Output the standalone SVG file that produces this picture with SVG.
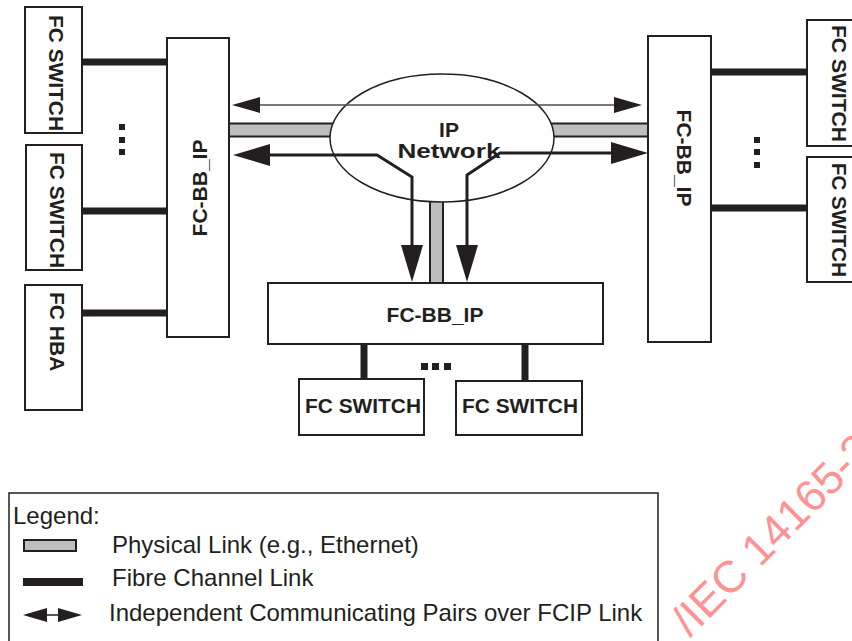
<svg xmlns="http://www.w3.org/2000/svg" width="852" height="641" viewBox="0 0 852 641">
<style>
.box{fill:#fff;stroke:#231f20;stroke-width:2}
.lbl{font-family:"Liberation Sans",Arial,sans-serif;font-weight:bold;font-size:21px;fill:#231f20}
.fc{stroke:#231f20;stroke-width:7;fill:none}
.phys{fill:#bcbec0;stroke:#231f20;stroke-width:2}
.pair{stroke:#231f20;stroke-width:3;fill:none}
.thin{stroke:#4d4d4f;stroke-width:1.5;fill:none}
.dot{fill:#231f20}
.leg{font-family:"Liberation Sans",Arial,sans-serif;font-size:24px;fill:#231f20}
</style>
<defs>
<marker id="bigHead" markerUnits="userSpaceOnUse" markerWidth="40" markerHeight="24" viewBox="0 -12 38 24" refX="0" refY="0" orient="auto-start-reverse">
<path d="M0,-11 L37,0 L0,11 z" fill="#231f20"/>
</marker>
<marker id="smallHead" markerUnits="userSpaceOnUse" markerWidth="30" markerHeight="18" viewBox="0 -9 29 18" refX="0" refY="0" orient="auto-start-reverse">
<path d="M0,-8 L28,0 L0,8 z" fill="#231f20"/>
</marker>
<marker id="legHead" markerUnits="userSpaceOnUse" markerWidth="26" markerHeight="16" viewBox="0 -8 25 16" refX="0" refY="0" orient="auto-start-reverse">
<path d="M0,-7 L24,0 L0,7 z" fill="#231f20"/>
</marker>
</defs>
<rect width="852" height="641" fill="#fff"/>

<g id="connectors">
<line class="fc" x1="82" y1="62" x2="167" y2="62"/>
<line class="fc" x1="82" y1="211" x2="167" y2="211"/>
<line class="fc" x1="82" y1="313" x2="167" y2="313"/>
<line class="fc" x1="711" y1="72" x2="807" y2="72"/>
<line class="fc" x1="711" y1="208" x2="807" y2="208"/>
<line class="fc" x1="364" y1="344" x2="364" y2="379"/>
<line class="fc" x1="525" y1="344" x2="525" y2="381"/>
<rect class="phys" x="229" y="123.5" width="110" height="13"/>
<rect class="phys" x="545" y="123.5" width="103" height="13"/>
<rect class="phys" x="430" y="190" width="13" height="93"/>
</g>

<g id="ip-network">
<ellipse cx="442" cy="138" rx="112" ry="64" fill="#fff" stroke="#231f20" stroke-width="1.5"/>
<text class="lbl" x="449" y="137" text-anchor="middle" font-size="25">IP</text>
<text class="lbl" x="449" y="158" text-anchor="middle" font-size="25" textLength="103" lengthAdjust="spacingAndGlyphs">Network</text>
</g>

<g id="pairs">
<path class="thin" d="M260,105 H614" marker-start="url(#smallHead)" marker-end="url(#smallHead)"/>
<path class="pair" d="M270,155 H377 L412,177 V245" marker-start="url(#bigHead)" marker-end="url(#bigHead)"/>
<path class="pair" d="M611,153 H500 L467,175 V245" marker-start="url(#bigHead)" marker-end="url(#bigHead)"/>
</g>

<g id="left-fc-switch-1">
<rect class="box" x="25" y="7" width="57" height="126"/>
<text class="lbl" transform="translate(49,15) rotate(90)" textLength="116" lengthAdjust="spacingAndGlyphs">FC SWITCH</text>
</g>
<g id="left-fc-switch-2">
<rect class="box" x="26" y="145" width="56" height="125"/>
<text class="lbl" transform="translate(50,152) rotate(90)" textLength="116" lengthAdjust="spacingAndGlyphs">FC SWITCH</text>
</g>
<g id="left-fc-hba">
<rect class="box" x="25" y="285" width="57" height="125"/>
<text class="lbl" transform="translate(50,292) rotate(90)">FC HBA</text>
</g>
<g id="left-dots">
<rect class="dot" x="119" y="124" width="6" height="6"/>
<rect class="dot" x="119" y="137" width="6" height="6"/>
<rect class="dot" x="119" y="149" width="6" height="6"/>
</g>
<g id="left-fc-bb-ip">
<rect class="box" x="167" y="38" width="62" height="299"/>
<text class="lbl" transform="translate(207,188) rotate(-90)" text-anchor="middle">FC-BB_IP</text>
</g>

<g id="right-fc-bb-ip">
<rect class="box" x="648" y="36" width="63" height="306"/>
<text class="lbl" transform="translate(677,158) rotate(90)" text-anchor="middle">FC-BB_IP</text>
</g>
<g id="right-dots">
<rect class="dot" x="754" y="137" width="6" height="6"/>
<rect class="dot" x="754" y="149" width="6" height="6"/>
<rect class="dot" x="754" y="162" width="6" height="6"/>
</g>
<g id="right-fc-switch-1">
<rect class="box" x="807" y="20" width="52" height="126"/>
<text class="lbl" transform="translate(832,25) rotate(90)" textLength="117" lengthAdjust="spacingAndGlyphs">FC SWITCH</text>
</g>
<g id="right-fc-switch-2">
<rect class="box" x="807" y="157" width="52" height="125"/>
<text class="lbl" transform="translate(832,163) rotate(90)" textLength="114" lengthAdjust="spacingAndGlyphs">FC SWITCH</text>
</g>

<g id="center-fc-bb-ip">
<rect class="box" x="268" y="283" width="335" height="61"/>
<text class="lbl" x="435" y="322" text-anchor="middle">FC-BB_IP</text>
</g>
<g id="bottom-dots">
<rect class="dot" x="421" y="363" width="7" height="7"/>
<rect class="dot" x="432" y="363" width="7" height="7"/>
<rect class="dot" x="444" y="363" width="7" height="7"/>
</g>
<g id="bottom-fc-switch-1">
<rect class="box" x="299" y="379" width="125" height="56"/>
<text class="lbl" x="305" y="413" textLength="116" lengthAdjust="spacingAndGlyphs">FC SWITCH</text>
</g>
<g id="bottom-fc-switch-2">
<rect class="box" x="456" y="381" width="126" height="54"/>
<text class="lbl" x="462" y="413" textLength="116" lengthAdjust="spacingAndGlyphs">FC SWITCH</text>
</g>

<g id="legend">
<rect x="9" y="493" width="649" height="160" fill="none" stroke="#231f20" stroke-width="1.5"/>
<text class="leg" x="13" y="524">Legend:</text>
<rect class="phys" x="24" y="540" width="52" height="11"/>
<text class="leg" x="112" y="553">Physical Link (e.g., Ethernet)</text>
<rect x="23" y="578" width="60" height="8" fill="#231f20"/>
<text class="leg" x="112" y="586">Fibre Channel Link</text>
<path d="M47,615 H58" stroke="#231f20" stroke-width="1.5" fill="none" marker-start="url(#legHead)" marker-end="url(#legHead)"/>
<text class="leg" x="109" y="621">Independent Communicating Pairs over FCIP Link</text>
</g>

<text transform="translate(690,638) rotate(-45)" font-family="Liberation Sans,Arial,sans-serif" font-size="44.5" fill="#ff8080" opacity="0.85">/IEC 14165-2</text>
</svg>
